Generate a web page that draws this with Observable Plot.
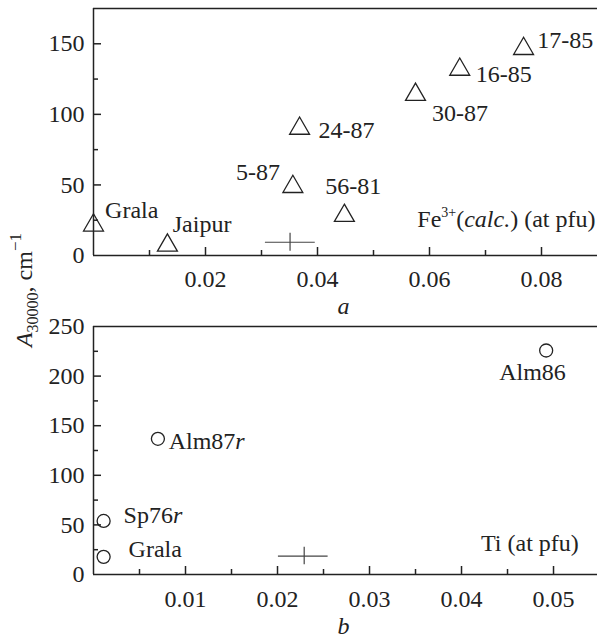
<!DOCTYPE html>
<html>
<head>
<meta charset="utf-8">
<script src="https://cdn.jsdelivr.net/npm/d3@7"></script>
<script src="https://cdn.jsdelivr.net/npm/@observablehq/plot@0.6"></script>
<style>
  html, body { margin: 0; padding: 0; background: white; }
  #wrap { position: relative; width: 597px; height: 637px; font-family: 'Liberation Serif', 'Times New Roman', serif; color: #222; }
  #wrap svg { display: block; }
  #ylab { position: absolute; left: 25px; top: 290px; transform: translate(-50%, -50%) rotate(-90deg); white-space: nowrap; font-size: 24px; line-height: 24px; }
  #ylab .sub { font-size: 16px; position: relative; top: 6px; }
  #ylab .sup { font-size: 17px; position: relative; top: -11px; }
</style>
</head>
<body>
<div id="wrap">
  <div id="top"></div>
  <div id="bottom"></div>
  <div id="ylab"><i>A</i><span class="sub">30000</span>, cm<span class="sup">−1</span></div>
</div>
<script>
// ---------- data: panel a (Fe3+ calc.) ----------
const samplesA = ["Grala", "Jaipur", "5-87", "24-87", "56-81", "30-87", "16-85", "17-85"];
const fe3A     = [0.0, 0.0132, 0.0356, 0.0368, 0.0448, 0.0575, 0.0654, 0.0768];
const absA     = [21.4, 7.2, 48.7, 90, 28.2, 114, 131.8, 146.5];
const errA     = [{x: 0.0351, y: 9.4, xlo: 0.0307, xhi: 0.0396, ylo: 3.0, yhi: 15.8}];

// ---------- data: panel b (Ti) ----------
const samplesB = ["Grala", "Sp76r", "Alm87r", "Alm86"];
const tiB      = [0.0011, 0.0011, 0.0070, 0.0492];
const absB     = [17.8, 54, 136.8, 225.8];
const errB     = [{x: 0.0229, y: 18.5, xlo: 0.0201, xhi: 0.0255, ylo: 9.8, yhi: 27.5}];

// ---------- ticks ----------
const xLabelsA = [0.02, 0.04, 0.06, 0.08];
const xMinorA  = [0.01, 0.03, 0.05, 0.07];
const yLabelsA = [0, 50, 100, 150];
const yMajorA  = [50, 100, 150];
const yMinorA  = [25, 75, 125];

const xLabelsB = [0.01, 0.02, 0.03, 0.04, 0.05];
const xMinorB  = [0.005, 0.015, 0.025, 0.035, 0.045];
const yLabelsB = [0, 50, 100, 150, 200, 250];
const yMajorB  = [50, 100, 150, 200];
const yMinorB  = [25, 75, 125, 175, 225];

// ---------- layout / style (not data) ----------
const offsA = {
  "Grala":  {dx: 11.6, dy: -7.5, anchor: "start"},
  "Jaipur": {dx: 5.3,  dy: -13.5, anchor: "start"},
  "5-87":   {dx: -12.9, dy: -7.2, anchor: "end"},
  "24-87":  {dx: 19,   dy: 10,   anchor: "start"},
  "56-81":  {dx: -19.2, dy: -21.2, anchor: "start"},
  "30-87":  {dx: 16.5, dy: 26,   anchor: "start"},
  "16-85":  {dx: 16,   dy: 12.5, anchor: "start"},
  "17-85":  {dx: 13.7, dy: -0.5, anchor: "start"}
};
const offsB = {
  "Grala":  {dx: 25,  dy: 0.4,  anchor: "start"},
  "Sp76r":  {dx: 20,  dy: 2.2,  anchor: "start"},
  "Alm87r": {dx: 10.8, dy: 10.7, anchor: "start"},
  "Alm86":  {dx: -47, dy: 29.3, anchor: "start"}
};

const INK = "#222";
const FONT = "'Liberation Serif', 'Times New Roman', serif";
const fmt2 = d3.format(".2f");

function panel({names, xs, ys, offs, err, xDomain, yDomain, height, mt, mb,
                xLabels, xMajor, xMinor, yLabels, yMajor, yMinor, symbol, r,
                xPad, letter, letterDy, note, noteDx, noteDy}) {
  const W = 597, ML = 93, MR = 0;
  const fw = W - ML - MR, fh = height - mt - mb;
  const pts = names.map((n, i) => ({name: n, x: xs[i], y: ys[i]}));
  const labelMarks = pts.map(p => Plot.text([p], {
    x: "x", y: "y", text: "name", dx: offs[p.name].dx, dy: offs[p.name].dy,
    textAnchor: offs[p.name].anchor, lineAnchor: "bottom", fill: INK, fontSize: 24
  }));
  return Plot.plot({
    width: W, height, marginLeft: ML, marginRight: MR, marginTop: mt, marginBottom: mb,
    style: {fontFamily: FONT, fontSize: "24px", color: INK, background: "white", overflow: "visible"},
    x: {domain: xDomain},
    y: {domain: yDomain},
    marks: [
      // frame (left, bottom, top)
      Plot.ruleX([xDomain[0]], {stroke: INK, strokeWidth: 1.5}),
      Plot.ruleY([yDomain[0]], {stroke: INK, strokeWidth: 1.5}),
      Plot.ruleY([yDomain[1]], {stroke: INK, strokeWidth: 1.5}),
      // inward ticks
      Plot.tickX(xMajor, {x: d => d, insetTop: fh - 8, stroke: INK, strokeWidth: 1.5}),
      Plot.tickX(xMinor, {x: d => d, insetTop: fh - 5, stroke: INK, strokeWidth: 1.5}),
      Plot.tickY(yMajor, {y: d => d, insetRight: fw - 8, stroke: INK, strokeWidth: 1.5}),
      Plot.tickY(yMinor, {y: d => d, insetRight: fw - 5, stroke: INK, strokeWidth: 1.5}),
      Plot.axisX(xLabels, {tickSize: 0, tickPadding: xPad, tickFormat: fmt2, label: null, fill: INK, fontSize: 24}),
      Plot.axisY(yLabels, {tickSize: 0, tickPadding: 9, label: null, fill: INK, fontSize: 24}),
      // error cross
      Plot.ruleY(err, {y: "y", x1: "xlo", x2: "xhi", stroke: "#444", strokeWidth: 1.2}),
      Plot.ruleX(err, {x: "x", y1: "ylo", y2: "yhi", stroke: "#444", strokeWidth: 1.2}),
      // points
      Plot.dot(pts, {x: "x", y: "y", symbol, r, fill: "none", stroke: INK, strokeWidth: 1.3}),
      ...labelMarks,
      Plot.text([note], {frameAnchor: "bottom-right", dx: noteDx, dy: noteDy, textAnchor: "end", lineAnchor: "bottom", fill: INK, fontSize: 24}),
      Plot.text([letter], {frameAnchor: "bottom", dx: -2, dy: letterDy, lineAnchor: "bottom", fill: INK, fontSize: 24, fontStyle: "italic"})
    ]
  });
}

const svgA = panel({
  names: samplesA, xs: fe3A, ys: absA, offs: offsA, err: errA,
  xDomain: [0, 0.09], yDomain: [0, 175], height: 320, mt: 8, mb: 65,
  xLabels: xLabelsA, xMajor: xLabelsA, xMinor: xMinorA,
  yLabels: yLabelsA, yMajor: yMajorA, yMinor: yMinorA,
  symbol: "triangle", r: 7.4, xPad: 14, letter: "a", letterDy: 58,
  note: "Fe3+(calc.) (at pfu)", noteDx: -2, noteDy: -28.3
});
const svgB = panel({
  names: samplesB, xs: tiB, ys: absB, offs: offsB, err: errB,
  xDomain: [0, 0.05478], yDomain: [0, 250], height: 317, mt: 6, mb: 63,
  xLabels: xLabelsB, xMajor: xLabelsB, xMinor: xMinorB,
  yLabels: yLabelsB, yMajor: yMajorB, yMinor: yMinorB,
  symbol: "circle", r: 6.5, xPad: 15, letter: "b", letterDy: 59,
  note: "Ti (at pfu)", noteDx: -18.7, noteDy: -24
});

// rich text: superscripts and italics inside labels
function enrich(svg) {
  const ns = "http://www.w3.org/2000/svg";
  svg.querySelectorAll("text").forEach(t => {
    const s = t.textContent;
    if (s === "Fe3+(calc.) (at pfu)") {
      t.textContent = "";
      const parts = [
        ["Fe", {}],
        ["3+", {"font-size": 14, dy: -10}],
        ["(", {dy: 10}],
        ["calc.", {"font-style": "italic"}],
        [") (at pfu)", {}]
      ];
      parts.forEach(([txt, attrs]) => {
        const sp = document.createElementNS(ns, "tspan");
        for (const k in attrs) sp.setAttribute(k, attrs[k]);
        sp.textContent = txt;
        t.appendChild(sp);
      });
    } else if (/^(Alm87|Sp76)r$/.test(s)) {
      t.textContent = s.slice(0, -1);
      const sp = document.createElementNS(ns, "tspan");
      sp.setAttribute("font-style", "italic");
      sp.textContent = "r";
      t.appendChild(sp);
    }
  });
}
enrich(svgA);
enrich(svgB);
document.getElementById("top").appendChild(svgA);
document.getElementById("bottom").appendChild(svgB);
</script>
</body>
</html>
